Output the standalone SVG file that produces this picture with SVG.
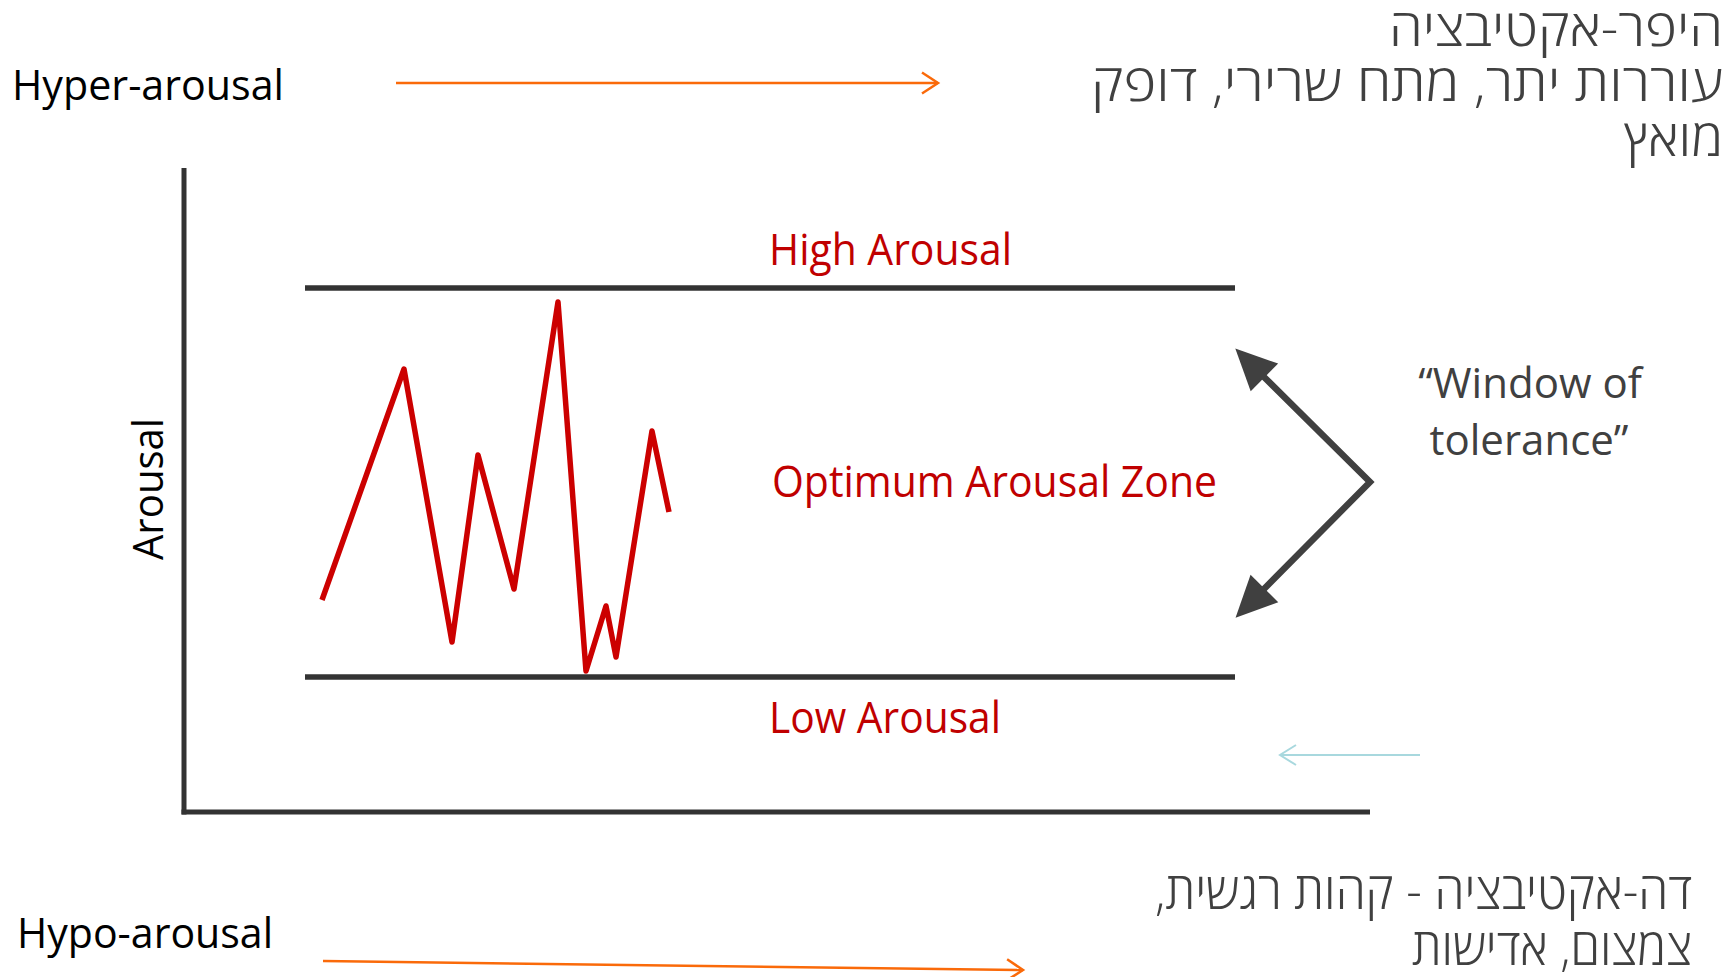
<svg xmlns="http://www.w3.org/2000/svg" width="1735" height="977" viewBox="0 0 1735 977">
<style>
text { font-family: "Open Sans", "DejaVu Sans", sans-serif; }
.en { font-size: 42px; fill: #000000; }
.red { font-size: 43px; fill: #C00000; }
.gray { font-size: 42px; fill: #404040; }
.heb { font-size: 51px; font-weight: 300; fill: #404040; font-family: "Open Sans", "DejaVu Sans", "Liberation Sans", sans-serif; }
.axis { stroke: #333333; stroke-width: 5; fill: none; }
.band { stroke: #333333; stroke-width: 5.5; fill: none; }
.zig { stroke: #CC0000; stroke-width: 5.5; fill: none; stroke-linejoin: round; stroke-linecap: butt; }
.orange { stroke: #FA6A0A; stroke-width: 2.5; fill: none; }
.cyan { stroke: #A8D8DE; stroke-width: 2; fill: none; }
.dbl { stroke: #404040; stroke-width: 6.5; fill: none; stroke-linejoin: miter; }
</style>
<defs>
<marker id="chevOrange" markerUnits="userSpaceOnUse" markerWidth="30" markerHeight="30" viewBox="-20 -15 25 30" refX="0" refY="0" orient="auto">
<path d="M-16,-10.5 L0,0 L-16,10.5" fill="none" stroke="#FA6A0A" stroke-width="2.5"/>
</marker>
<marker id="chevCyan" markerUnits="userSpaceOnUse" markerWidth="30" markerHeight="30" viewBox="-20 -15 25 30" refX="0" refY="0" orient="auto">
<path d="M-16,-10 L0,0 L-16,10" fill="none" stroke="#A8D8DE" stroke-width="2"/>
</marker>
<marker id="tri" markerUnits="userSpaceOnUse" markerWidth="50" markerHeight="50" viewBox="-5 -25 50 50" refX="0" refY="0" orient="auto-start-reverse">
<path d="M-2,-19.5 L39,0 L-2,19.5 Z" fill="#404040"/>
</marker>
</defs>

<g id="axes">
<line class="axis" x1="184" y1="168" x2="184" y2="814.5"/>
<line class="axis" x1="181.5" y1="812" x2="1370" y2="812"/>
</g>

<g id="high-band">
<line class="band" x1="305" y1="288" x2="1235" y2="288"/>
<text class="red" x="769" y="265" textLength="243" lengthAdjust="spacingAndGlyphs">High Arousal</text>
</g>

<g id="low-band">
<line class="band" x1="305" y1="677" x2="1235" y2="677"/>
<text class="red" x="769" y="733" textLength="232" lengthAdjust="spacingAndGlyphs">Low Arousal</text>
</g>

<g id="optimum-zone">
<text class="red" x="772" y="497" textLength="445" lengthAdjust="spacingAndGlyphs">Optimum Arousal Zone</text>
</g>

<g id="arousal-label">
<text class="en" transform="translate(163,560) rotate(-90)" x="0" y="0" textLength="142" lengthAdjust="spacingAndGlyphs">Arousal</text>
</g>

<g id="zigzag">
<polyline class="zig" points="322,600 404,369 452,642 478,455 514,589 558,302 586,671 606,606 616,657 652,431 669,512"/>
</g>

<g id="hyper-arousal">
<text class="en" x="12" y="100" textLength="272" lengthAdjust="spacingAndGlyphs">Hyper-arousal</text>
</g>

<g id="hypo-arousal">
<text class="en" x="17" y="948" textLength="256" lengthAdjust="spacingAndGlyphs">Hypo-arousal</text>
</g>

<g id="hyper-hebrew">
<text class="heb" direction="rtl" text-anchor="start" x="1723" y="46" textLength="334" lengthAdjust="spacingAndGlyphs">היפר-אקטיבציה</text>
<text class="heb" direction="rtl" text-anchor="start" x="1723" y="101" textLength="632" lengthAdjust="spacingAndGlyphs">עוררות יתר, מתח שרירי, דופק</text>
<text class="heb" direction="rtl" text-anchor="start" x="1723" y="156" textLength="99" lengthAdjust="spacingAndGlyphs">מואץ</text>
</g>

<g id="hypo-hebrew">
<text class="heb" direction="rtl" text-anchor="start" x="1692" y="909" textLength="537" lengthAdjust="spacingAndGlyphs">דה-אקטיבציה - קהות רגשית,</text>
<text class="heb" direction="rtl" text-anchor="start" x="1692" y="965" textLength="280" lengthAdjust="spacingAndGlyphs">צמצום, אדישות</text>
</g>

<g id="window-of-tolerance">
<text class="gray" x="1530" y="398" text-anchor="middle">“Window of</text>
<text class="gray" x="1529" y="455" text-anchor="middle">tolerance”</text>
</g>

<g id="connectors">
<line class="orange" x1="396" y1="83" x2="938" y2="83" marker-end="url(#chevOrange)"/>
<line class="orange" x1="323" y1="961" x2="1023" y2="970" marker-end="url(#chevOrange)"/>
<line class="cyan" x1="1420" y1="755" x2="1280" y2="755" marker-end="url(#chevCyan)"/>
<path class="dbl" d="M1263,376 L1370,482 L1263,590" marker-start="url(#tri)" marker-end="url(#tri)"/>
</g>
</svg>
